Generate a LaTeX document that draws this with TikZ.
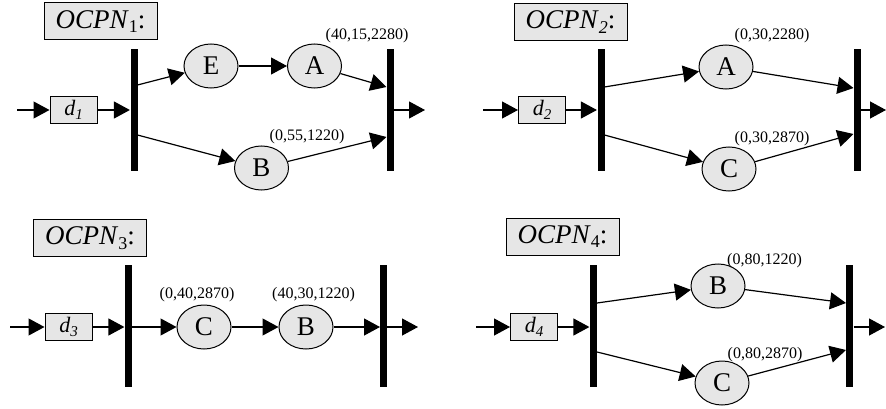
\documentclass[tikz,border=0pt]{standalone}
\usepackage{fontspec}
\setmainfont{Liberation Serif}
\usetikzlibrary{arrows.meta,shapes.geometric}
\definecolor{boxgray}{RGB}{230,230,230}
\newcommand{\lowsub}[2][15]{\raisebox{-0.35ex}{\fontsize{#1}{#1}\selectfont #2}}
\begin{document}
\begin{tikzpicture}[x=1pt,y=-1pt, line width=1.2pt,
  >={Triangle[length=16pt,width=17pt]},
  titlebox/.style={draw, fill=boxgray, line width=1pt, minimum width=113pt, minimum height=37pt, inner sep=0pt, font=\fontsize{27}{27}\selectfont},
  dbox/.style={draw, fill=boxgray, line width=1pt, minimum width=47pt, minimum height=27pt, inner sep=0pt, font=\fontsize{22}{22}\selectfont\itshape},
  place/.style={ellipse, draw, fill=boxgray, line width=1pt, minimum width=54pt, minimum height=44pt, inner sep=0pt, font=\fontsize{27}{27}\selectfont},
  trans/.style={fill=black, draw=none, minimum width=7pt, minimum height=122pt, inner sep=0pt},
  tuple/.style={font=\fontsize{16}{16}\selectfont, inner sep=0pt},
  arc/.style={->}
]
\useasboundingbox (0,0) rectangle (886,409);

% ---------- Panel 1 ----------
\node[titlebox] (ti1) at (100.5,21.5) {\textit{OCPN}\lowsub[18]{1}:};
\coordinate (in1) at (17,110);
\node[dbox] (d1) at (73.5,110) {d\lowsub{1}};
\node[trans] (t1) at (134,110) {};
\node[trans] (t2) at (390,110) {};
\node[place] (E1) at (211,66) {E};
\node[place] (A1) at (314.5,66) {A};
\node[place] (B1) at (261.5,168) {B};
\coordinate (t1u) at (137.5,85);
\coordinate (t1l) at (137.5,135);
\coordinate (t2u) at (386.5,87);
\coordinate (t2l) at (386.5,137);
\coordinate (out1) at (425,110);
\node[tuple] (l1a) at (367,36) {(40,15,2280)};
\node[tuple] (l1b) at (307,137) {(0,55,1220)};
\draw[arc] (in1) -- (d1);
\draw[arc] (d1) -- (t1);
\draw[arc] (t1u) -- (E1);
\draw[arc] (E1) -- (A1);
\draw[arc] (A1) -- (t2u);
\draw[arc] (t1l) -- (B1);
\draw[arc] (B1) -- (t2l);
\draw[arc] (t2) -- (out1);

% ---------- Panel 2 ----------
\node[titlebox] (ti2) at (570.5,22) {\textit{OCPN}\lowsub[18]{\itshape 2}:};
\coordinate (in2) at (483,110);
\node[dbox] (d2) at (542,110) {d\lowsub{2}};
\node[trans] (t3) at (601,110) {};
\node[trans] (t4) at (857,110) {};
\node[place] (A2) at (726,67) {A};
\node[place] (C2) at (729,169) {C};
\coordinate (t3u) at (604.5,87);
\coordinate (t3l) at (604.5,135);
\coordinate (t4u) at (853.5,88);
\coordinate (t4l) at (853.5,134);
\coordinate (out2) at (886,110);
\node[tuple] (l2a) at (772,36) {(0,30,2280)};
\node[tuple] (l2b) at (772,139) {(0,30,2870)};
\draw[arc] (in2) -- (d2);
\draw[arc] (d2) -- (t3);
\draw[arc] (t3u) -- (A2);
\draw[arc] (A2) -- (t4u);
\draw[arc] (t3l) -- (C2);
\draw[arc] (C2) -- (t4l);
\draw[arc] (t4) -- (out2);

% ---------- Panel 3 ----------
\node[titlebox] (ti3) at (90,238) {\textit{OCPN}\lowsub[18]{3}:};
\coordinate (in3) at (10,327);
\node[dbox] (d3) at (68.5,327) {d\lowsub{3}};
\node[trans] (t5) at (128.5,326) {};
\node[trans] (t6) at (383.5,326) {};
\node[place] (C3) at (204,327) {C};
\node[place] (B3) at (306,327) {B};
\coordinate (t5r) at (132,327);
\coordinate (t6l) at (380,327);
\coordinate (t6r) at (387,327);
\coordinate (out3) at (418,327);
\node[tuple] (l3a) at (197,295) {(0,40,2870)};
\node[tuple] (l3b) at (313.5,295) {(40,30,1220)};
\draw[arc] (in3) -- (d3);
\draw[arc] (d3.east) -- (t5.west |- d3.east);
\draw[arc] (t5r) -- (C3);
\draw[arc] (C3) -- (B3);
\draw[arc] (B3) -- (t6l);
\draw[arc] (t6r) -- (out3);

% ---------- Panel 4 ----------
\node[titlebox] (ti4) at (562.5,236.5) {\textit{OCPN}\lowsub[18]{4}:};
\coordinate (in4) at (476,327);
\node[dbox] (d4) at (534,327) {d\lowsub{4}};
\node[trans] (t7) at (593.5,326) {};
\node[trans] (t8) at (849.5,326) {};
\node[place] (B4) at (718,286) {B};
\node[place] (C4) at (722,383) {C};
\coordinate (t7u) at (597,303);
\coordinate (t7l) at (597,352);
\coordinate (t8u) at (846,303);
\coordinate (t8l) at (846,350);
\coordinate (out4) at (885,327);
\node[tuple] (l4a) at (764.5,261) {(0,80,1220)};
\node[tuple] (l4b) at (765,355) {(0,80,2870)};
\draw[arc] (in4) -- (d4);
\draw[arc] (d4.east) -- (t7.west |- d4.east);
\draw[arc] (t7u) -- (B4);
\draw[arc] (B4) -- (t8u);
\draw[arc] (t7l) -- (C4);
\draw[arc] (C4) -- (t8l);
\draw[arc] (t8.east |- out4) -- (out4);
\end{tikzpicture}
\end{document}
